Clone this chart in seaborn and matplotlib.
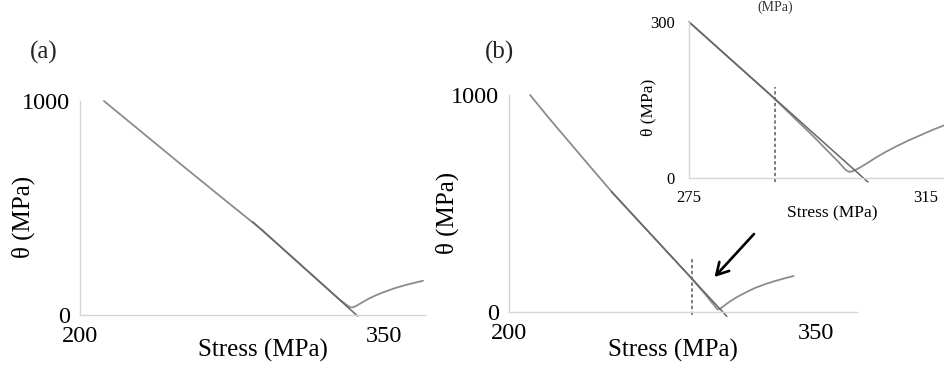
import numpy as np
import pandas as pd
import matplotlib
matplotlib.use("Agg")
import matplotlib.pyplot as plt
import seaborn as sns

# ---- panel (a): hardening rate vs stress ----
a_stress = [211.8, 230, 250, 270, 290, 310, 320, 328, 331.5, 333.2, 334.5, 336, 338, 342, 346, 350, 355, 360, 365, 369]
a_theta = [1000, 858, 702, 548, 395, 225, 140, 72, 46, 36, 36, 42, 53, 75, 93, 108, 125, 139, 151, 160]
a_fit_stress = [285.0, 336.8]
a_fit_theta = [436, -5]

# ---- panel (b): hardening rate vs stress ----
b_stress = [210.3, 220, 230, 240, 250, 260, 270, 280, 289.2, 293, 296, 299, 300.3, 301, 301.5,
            302.0, 302.5, 303.0, 304.0, 305.0, 306.5, 308, 310, 312, 314, 316, 318, 320,
            325, 330, 335, 339]
b_theta = [1000, 888, 777, 666, 556, 453, 351, 249, 155, 113, 80, 45, 30, 21, 15,
           12, 12.5, 15, 21, 28, 39, 49, 61, 72, 82, 92, 101, 110,
           128, 143, 156, 166]
b_fit_stress = [250.0, 306.4]
b_fit_theta = [555, -20]
b_mark = 289.5  # stress of the dotted marker line

main_xticks = [200, 250, 300, 350]
main_xlabels = ["200", "", "", "350"]
main_yticks = [0, 1000]
main_ylabels = ["0", "1000"]
inset_xticks = [275, 285, 295, 305, 315]
inset_xlabels = ["275", "", "", "", "315"]
inset_yticks = [0, 50, 100, 150, 200, 250, 300]
inset_ylabels = ["0", "", "", "", "", "", "300"]

sns.set_theme(style="white")
plt.rcParams["font.family"] = ["Liberation Serif", "DejaVu Serif"]

DATA_C = "#8c8c8c"
FIT_C = "#666666"
AXIS_C = "#d6d6d6"

fig = plt.figure(figsize=(9.45, 3.65), dpi=100)
ax_a = fig.add_axes([80 / 945, 1 - 315 / 365, 345 / 945, 214 / 365])
ax_b = fig.add_axes([509 / 945, 1 - 312 / 365, 348 / 945, 217 / 365])
ax_i = fig.add_axes([689 / 945, 1 - 178 / 365, 256 / 945, 156 / 365])

df_a = pd.DataFrame({"stress": a_stress, "theta": a_theta})
df_af = pd.DataFrame({"stress": a_fit_stress, "theta": a_fit_theta})
df_b = pd.DataFrame({"stress": b_stress, "theta": b_theta})
df_bf = pd.DataFrame({"stress": b_fit_stress, "theta": b_fit_theta})


def style_axes(ax, xlim, ylim, xt, xl, yt, yl, fs, yminor=None):
    ax.set_xlim(*xlim)
    ax.set_ylim(*ylim)
    for s in ["top", "right"]:
        ax.spines[s].set_visible(False)
    for s in ["left", "bottom"]:
        ax.spines[s].set_color(AXIS_C)
        ax.spines[s].set_linewidth(1.0)
    ax.set_xticks(xt)
    ax.set_xticklabels(xl)
    ax.set_yticks(yt)
    ax.set_yticklabels(yl)
    if yminor is not None:
        ax.set_yticks(yminor, minor=True)
    ax.tick_params(axis="x", which="both", direction="inout", length=6, width=0.8,
                   color=AXIS_C, labelsize=fs, labelcolor="black", pad=5)
    ax.tick_params(axis="y", which="major", direction="out", length=0,
                   labelsize=fs, labelcolor="black", pad=7)
    ax.tick_params(axis="y", which="minor", direction="out", length=3, width=0.8,
                   color=AXIS_C)
    ax.set_facecolor("none")


# panel (a)
sns.lineplot(data=df_a, x="stress", y="theta", ax=ax_a, color=DATA_C, lw=1.3,
             sort=False, estimator=None)
sns.lineplot(data=df_af, x="stress", y="theta", ax=ax_a, color=FIT_C, lw=1.1,
             sort=False, estimator=None)
style_axes(ax_a, (200, 370), (0, 1000), main_xticks, main_xlabels,
           main_yticks, main_ylabels, 17.5)
for ln in ax_a.lines:
    ln.set_clip_on(False)

# panel (b)
sns.lineplot(data=df_b, x="stress", y="theta", ax=ax_b, color=DATA_C, lw=1.3,
             sort=False, estimator=None)
sns.lineplot(data=df_bf, x="stress", y="theta", ax=ax_b, color=FIT_C, lw=1.1,
             sort=False, estimator=None)
style_axes(ax_b, (200, 370), (0, 1000), main_xticks, main_xlabels,
           main_yticks, main_ylabels, 17.5, yminor=np.arange(100, 1000, 100))
for ln in ax_b.lines:
    ln.set_clip_on(False)
ax_b.vlines(b_mark, -15, 249, colors="#666666", linestyles=(0, (2, 1.5)), lw=1.2,
            clip_on=False)
ax_b.annotate("", xy=(299.5, 152), xytext=(320.6, 369),
              arrowprops=dict(arrowstyle="->,head_length=0.7,head_width=0.4",
                              color="black", lw=1.9))

# inset: zoom on the minimum of panel (b)
inset_fit_x = [275.0, 305.2]
inset_fit_y = list(np.interp(inset_fit_x, b_fit_stress, b_fit_theta))
sns.lineplot(data=df_b, x="stress", y="theta", ax=ax_i, color=DATA_C, lw=1.3,
             sort=False, estimator=None)
ax_i.plot(inset_fit_x, inset_fit_y, color=FIT_C, lw=1.1, clip_on=False)
style_axes(ax_i, (275, 318.2), (0, 300), inset_xticks, inset_xlabels,
           inset_yticks, inset_ylabels, 12)
ax_i.tick_params(axis="x", pad=6, length=5)
ax_i.tick_params(axis="y", which="major", direction="out", length=3, width=0.8,
                 color=AXIS_C, pad=7)
ax_i.set_yticks([], minor=True)
ax_i.vlines(b_mark, -8, 175, colors="#666666", linestyles=(0, (2, 1.5)), lw=1.2,
            clip_on=False)

# axis titles
for ax, xc, yc, fs in [(ax_a, 0.530, -0.164, 18), (ax_b, 0.471, -0.175, 18)]:
    ax.set_xlabel("Stress (MPa)", fontsize=fs, color="black")
    ax.xaxis.set_label_coords(xc, yc)
    ax.xaxis.label.set_va("center")
ax_i.set_xlabel("Stress (MPa)", fontsize=12.5, color="black")
ax_i.xaxis.set_label_coords(0.559, -0.224)
ax_i.xaxis.label.set_va("center")

for ax, xc, yc, fs in [(ax_a, -0.165, 0.458, 18), (ax_b, -0.178, 0.456, 18),
                       (ax_i, -0.16, 0.455, 12.5)]:
    ax.set_ylabel("θ (MPa)", fontsize=fs, color="black")
    ax.yaxis.set_label_coords(xc, yc)
    ax.yaxis.label.set_va("center")

fig.text(44 / 945, 1 - 52 / 365, "(a)", fontsize=18, ha="center", va="center")
fig.text(500 / 945, 1 - 52 / 365, "(b)", fontsize=18, ha="center", va="center")
fig.text(775 / 945, 1 - 1 / 365, "(MPa)", fontsize=10, ha="center", va="top",
         color="#333333")

fig.savefig("out.png", dpi=100, facecolor="white")
